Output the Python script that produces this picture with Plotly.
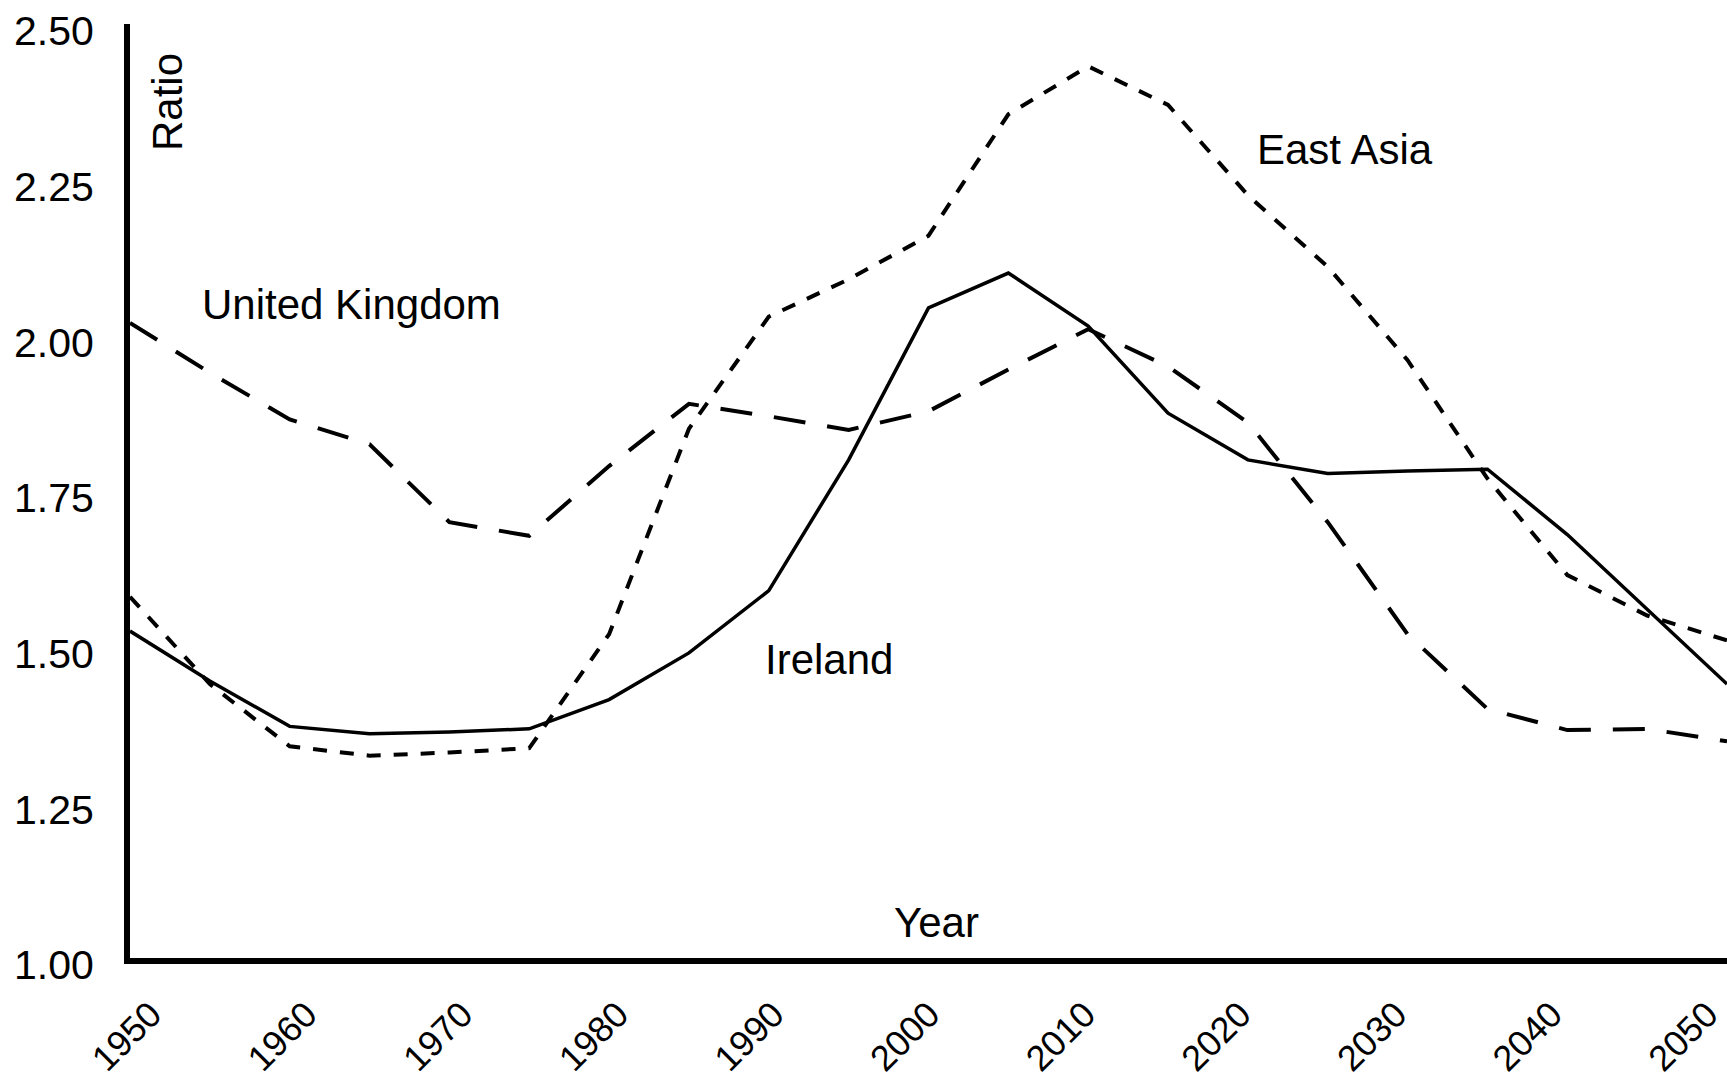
import plotly.graph_objects as go

years = [1950, 1955, 1960, 1965, 1970, 1975, 1980, 1985, 1990, 1995, 2000,
         2005, 2010, 2015, 2020, 2025, 2030, 2035, 2040, 2045, 2050]

ireland = [1.525, 1.445, 1.372, 1.360, 1.363, 1.368, 1.415, 1.490, 1.590, 1.800, 2.044,
           2.100, 2.015, 1.875, 1.800, 1.778, 1.782, 1.785, 1.680, 1.560, 1.440]

united_kingdom = [2.020, 1.940, 1.865, 1.825, 1.700, 1.678, 1.790, 1.890, 1.870, 1.848, 1.878,
                  1.945, 2.010, 1.950, 1.860, 1.700, 1.520, 1.400, 1.366, 1.368, 1.348]

east_asia = [1.580, 1.440, 1.340, 1.325, 1.330, 1.337, 1.520, 1.850, 2.030, 2.090, 2.160,
             2.355, 2.432, 2.370, 2.225, 2.110, 1.960, 1.770, 1.615, 1.550, 1.510]

y_ticks = [1.00, 1.25, 1.50, 1.75, 2.00, 2.25, 2.50]
x_ticks = [1950, 1960, 1970, 1980, 1990, 2000, 2010, 2020, 2030, 2040, 2050]

FONT = "Liberation Sans, Arial, Helvetica, sans-serif"

fig = go.Figure()
fig.add_trace(go.Scatter(x=years, y=united_kingdom, mode="lines", name="United Kingdom",
                         line=dict(color="black", width=4, dash="32px,22px")))
fig.add_trace(go.Scatter(x=years, y=east_asia, mode="lines", name="East Asia",
                         line=dict(color="black", width=4, dash="14px,13px")))
fig.add_trace(go.Scatter(x=years, y=ireland, mode="lines", name="Ireland",
                         line=dict(color="black", width=3.5)))
# empty trace so that the label axis (as printed in the source, slightly offset) is drawn
fig.add_trace(go.Scatter(x=[], y=[], xaxis="x2", yaxis="y", showlegend=False, hoverinfo="skip"))

def ann(text, x, y, angle=0):
    fig.add_annotation(text=text, x=x, y=y, xref="paper", yref="paper",
                       showarrow=False, textangle=angle,
                       font=dict(family=FONT, size=42, color="black"),
                       xanchor="center", yanchor="middle")

ann("United Kingdom", 0.139, 0.700)
ann("East Asia", 0.761, 0.866)
ann("Ireland", 0.438, 0.320)
ann("Year", 0.505, 0.0375)
ann("Ratio", 0.0238, 0.9165, angle=-90)

fig.update_layout(
    width=1727, height=1078,
    margin=dict(l=130, r=0, t=24, b=120),
    paper_bgcolor="white", plot_bgcolor="white",
    showlegend=False,
    font=dict(family=FONT, size=40, color="black"),
    xaxis=dict(range=[1950, 2050], showticklabels=False, showgrid=False, zeroline=False,
               showline=True, linewidth=6, linecolor="black", ticks="", automargin=False),
    xaxis2=dict(overlaying="x", side="bottom", anchor="y",
                range=[1948.85, 2051.45], tickvals=x_ticks,
                ticktext=[str(v) for v in x_ticks],
                tickangle=-45, showgrid=False, zeroline=False, showline=False,
                ticks="", automargin=False, ticklabelstandoff=27, ticklabelshift=3,
                ticklabeloverflow="allow",
                tickfont=dict(family=FONT, size=36, color="black")),
    yaxis=dict(range=[1.0, 2.5], tickvals=y_ticks, ticktext=[f"{v:.2f}" for v in y_ticks],
               showgrid=False, zeroline=False,
               showline=True, linewidth=6, linecolor="black",
               ticks="", automargin=False, ticklabelstandoff=22, ticklabelshift=7,
               ticklabeloverflow="allow",
               tickfont=dict(family=FONT, size=41, color="black")),
)

fig.write_html("out.html", config={"displayModeBar": False},
               post_script="document.body.style.margin='0';document.body.style.overflow='hidden';")
